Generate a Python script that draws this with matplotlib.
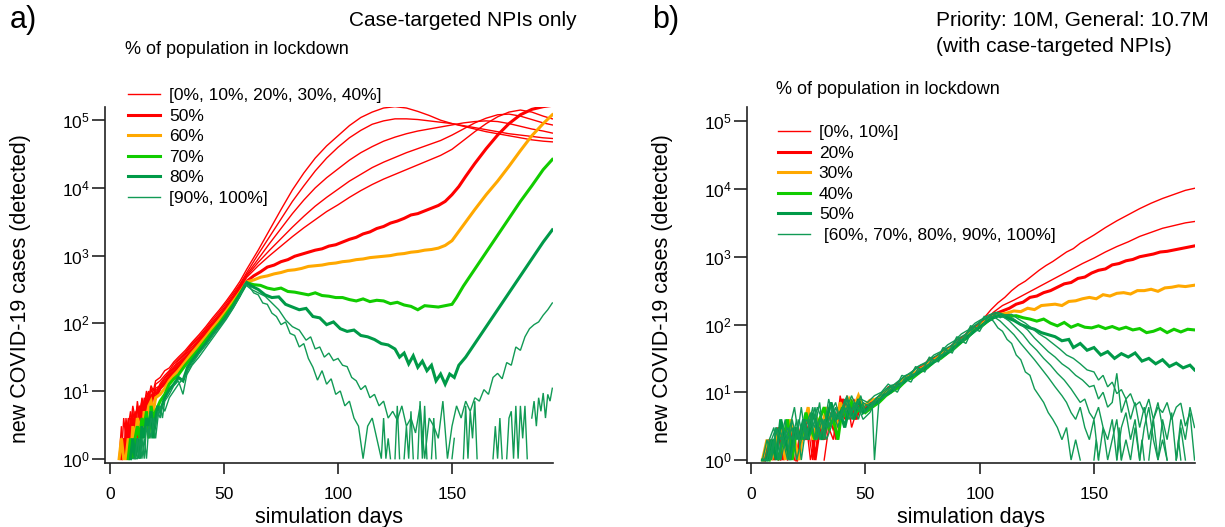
import numpy as np
import matplotlib
matplotlib.use('Agg')
import matplotlib.pyplot as plt
from matplotlib.ticker import NullLocator, FixedLocator

plt.rcParams['font.family'] = ['Liberation Sans', 'DejaVu Sans']
plt.rcParams['mathtext.fontset'] = 'custom'
plt.rcParams['mathtext.rm'] = 'Liberation Sans'
plt.rcParams['mathtext.it'] = 'Liberation Sans:italic'

N = float('nan')  # zero detected cases -> gap on log axis

# ---- panel a: case-targeted NPIs only (day, log10 cases) ----
a_r0 = [(4,0),(5,.48),(6,0),(7,.3),(8,.6),(9,.3),(10,.7),(11,.48),(12,.85),(13,.6),(14,.9),(15,.78),(16,1.0),(17,.9),(18,1.08),(19,1.0),(20,1.15),(22,1.2),(24,1.3),(26,1.34),(28,1.43),(30,1.5),(33,1.6),(36,1.72),(39,1.83),(42,1.95),(45,2.08),(48,2.2),(51,2.33),(54,2.47),(57,2.62),(60,2.8),(65,3.08),(70,3.38),(75,3.68),(80,3.97),(85,4.22),(90,4.44),(95,4.62),(100,4.77),(105,4.92),(110,5.04),(115,5.12),(120,5.18),(125,5.2),(130,5.18),(135,5.13),(140,5.07),(145,5.0),(150,4.95),(155,4.91),(160,4.87),(165,4.83),(170,4.8),(175,4.77),(180,4.74),(185,4.71),(190,4.69),(194,4.68)]
a_r1 = [(5,0),(6,.3),(7,0),(8,.48),(9,.7),(10,.3),(11,.6),(12,.78),(13,.48),(14,.85),(15,.7),(16,.95),(17,.85),(18,1.04),(19,.9),(20,1.1),(22,1.15),(24,1.23),(26,1.3),(28,1.4),(30,1.47),(33,1.57),(36,1.7),(39,1.8),(42,1.92),(45,2.05),(48,2.17),(51,2.3),(54,2.44),(57,2.58),(60,2.75),(65,3.02),(70,3.28),(75,3.54),(80,3.8),(85,4.03),(90,4.25),(95,4.44),(100,4.6),(105,4.74),(110,4.85),(115,4.94),(120,4.99),(125,5.02),(130,5.02),(135,5.01),(140,4.99),(145,4.97),(150,4.95),(155,4.92),(160,4.89),(165,4.86),(170,4.83),(175,4.8),(180,4.78),(185,4.76),(190,4.74),(194,4.73)]
a_r2 = [(4,0),(5,0),(6,.6),(7,.3),(8,0),(9,.48),(10,.6),(11,.3),(12,.7),(13,.78),(14,.6),(15,.9),(16,.78),(17,1.0),(18,.85),(19,1.04),(20,.95),(22,1.11),(24,1.2),(26,1.28),(28,1.36),(30,1.45),(33,1.55),(36,1.68),(39,1.78),(42,1.9),(45,2.02),(48,2.14),(51,2.27),(54,2.41),(57,2.56),(60,2.72),(65,2.95),(70,3.18),(75,3.4),(80,3.62),(85,3.82),(90,4.0),(95,4.15),(100,4.28),(105,4.41),(110,4.52),(115,4.61),(120,4.69),(125,4.75),(130,4.8),(135,4.84),(140,4.87),(145,4.9),(150,4.93),(155,4.96),(160,4.98),(165,4.99),(170,4.98),(175,4.95),(180,4.91),(185,4.87),(190,4.84),(194,4.81)]
a_r3 = [(6,0),(7,.48),(8,.3),(9,.6),(10,0),(11,.7),(12,.48),(13,.78),(14,.7),(15,.6),(16,.9),(17,.78),(18,.95),(19,.9),(20,1.04),(22,1.08),(24,1.18),(26,1.26),(28,1.34),(30,1.42),(33,1.53),(36,1.65),(39,1.76),(42,1.88),(45,2.0),(48,2.12),(51,2.25),(54,2.39),(57,2.54),(60,2.7),(65,2.9),(70,3.08),(75,3.25),(80,3.42),(85,3.58),(90,3.73),(95,3.86),(100,3.98),(105,4.1),(110,4.2),(115,4.3),(120,4.38),(125,4.45),(130,4.52),(135,4.58),(140,4.64),(145,4.7),(150,4.78),(155,4.87),(160,4.96),(165,5.03),(170,5.08),(175,5.09),(180,5.06),(185,5.01),(190,4.96),(194,4.93)]
a_r4 = [(5,0),(6,0),(7,.6),(8,.3),(9,.48),(10,.78),(11,.6),(12,.3),(13,.7),(14,.85),(15,.6),(16,.78),(17,.95),(18,.85),(19,.9),(20,1.0),(22,1.08),(24,1.15),(26,1.24),(28,1.32),(30,1.4),(33,1.5),(36,1.62),(39,1.74),(42,1.86),(45,1.98),(48,2.1),(51,2.23),(54,2.37),(57,2.52),(60,2.68),(65,2.85),(70,3.0),(75,3.14),(80,3.28),(85,3.41),(90,3.53),(95,3.65),(100,3.75),(105,3.86),(110,3.96),(115,4.05),(120,4.13),(125,4.2),(130,4.27),(135,4.34),(140,4.41),(145,4.48),(150,4.57),(155,4.7),(160,4.83),(165,4.95),(170,5.05),(175,5.12),(180,5.15),(185,5.12),(190,5.06),(194,5.02)]
a_r5 = [(5,0),(6,.3),(7,0),(8,.48),(9,.3),(10,.6),(11,.48),(12,.3),(13,.7),(14,.6),(15,.78),(16,.7),(17,.9),(18,.78),(19,.95),(20,.9),(22,1.04),(24,1.11),(26,1.2),(28,1.28),(30,1.36),(33,1.48),(36,1.6),(39,1.72),(42,1.84),(45,1.96),(48,2.08),(51,2.2),(54,2.34),(57,2.48),(60,2.62),(63,2.7),(66,2.76),(69,2.83),(72,2.86),(75,2.91),(78,2.94),(81,2.99),(84,3.02),(87,3.05),(90,3.08),(93,3.1),(96,3.14),(99,3.16),(102,3.2),(105,3.24),(108,3.27),(111,3.32),(114,3.35),(117,3.4),(120,3.43),(123,3.48),(126,3.51),(129,3.55),(132,3.6),(135,3.62),(138,3.66),(141,3.7),(144,3.74),(147,3.8),(150,3.9),(153,4.02),(156,4.17),(160,4.36),(165,4.58),(170,4.78),(175,4.95),(180,5.08),(185,5.16),(190,5.2),(194,5.22)]
a_o = [(4,0),(5,.3),(6,0),(7,0),(8,.3),(9,0),(10,.48),(11,.3),(12,.6),(13,.48),(14,.3),(15,.7),(16,.6),(17,.78),(18,.85),(19,.7),(20,.9),(22,.95),(24,1.04),(26,1.15),(28,1.23),(30,1.3),(33,1.43),(36,1.56),(39,1.68),(42,1.8),(45,1.93),(48,2.05),(51,2.18),(54,2.32),(57,2.46),(60,2.61),(63,2.64),(66,2.68),(69,2.7),(72,2.73),(75,2.75),(78,2.78),(81,2.79),(84,2.81),(87,2.84),(90,2.85),(93,2.86),(96,2.88),(99,2.89),(102,2.91),(105,2.92),(108,2.94),(111,2.95),(114,2.97),(117,2.98),(120,2.99),(123,3.0),(126,3.02),(129,3.03),(132,3.05),(135,3.06),(138,3.08),(141,3.09),(144,3.11),(147,3.15),(150,3.22),(155,3.45),(160,3.68),(165,3.9),(170,4.1),(175,4.32),(180,4.55),(185,4.77),(190,4.95),(194,5.08)]
a_g7 = [(8,0),(9,.3),(10,0),(11,.3),(12,.48),(13,.3),(14,.6),(15,.48),(16,.7),(17,.3),(18,.78),(19,.6),(20,.7),(22,.85),(24,.95),(26,1.1),(28,1.18),(30,1.24),(33,1.38),(36,1.5),(39,1.62),(42,1.75),(45,1.88),(48,2.0),(51,2.14),(54,2.28),(57,2.44),(60,2.6),(63,2.57),(66,2.56),(69,2.52),(72,2.5),(75,2.52),(78,2.47),(81,2.46),(84,2.44),(87,2.42),(90,2.45),(93,2.41),(96,2.4),(99,2.38),(102,2.38),(105,2.35),(108,2.33),(111,2.36),(114,2.32),(117,2.34),(120,2.33),(123,2.29),(126,2.31),(129,2.27),(132,2.25),(135,2.2),(138,2.26),(141,2.25),(144,2.24),(147,2.26),(150,2.28),(152,2.38),(155,2.55),(160,2.8),(165,3.05),(170,3.3),(175,3.55),(180,3.8),(185,4.03),(190,4.27),(194,4.42)]
a_g8 = [(9,0),(10,.3),(11,0),(12,.3),(13,0),(14,.48),(15,.3),(16,.6),(17,.48),(18,.7),(19,.3),(20,.6),(21,.78),(22,.7),(24,.9),(26,1.02),(28,1.1),(30,1.2),(32,1.15),(34,1.35),(36,1.45),(39,1.58),(42,1.7),(45,1.84),(48,1.97),(51,2.1),(54,2.25),(57,2.42),(60,2.6),(62,2.55),(65,2.5),(68,2.42),(71,2.38),(74,2.39),(77,2.28),(80,2.24),(83,2.2),(86,2.22),(89,2.1),(92,2.08),(95,1.98),(98,2.02),(101,1.92),(104,1.88),(107,1.9),(110,1.82),(113,1.8),(116,1.76),(119,1.7),(122,1.68),(125,1.62),(127,1.5),(129,1.56),(131,1.4),(133,1.52),(135,1.35),(137,1.44),(139,1.3),(141,1.38),(143,1.15),(145,1.25),(147,1.1),(149,1.25),(151,1.2),(153,1.38),(156,1.5),(160,1.7),(165,1.95),(170,2.2),(175,2.45),(180,2.7),(185,2.95),(190,3.2),(194,3.38)]
a_g9 = [(10,0),(11,0),(12,.3),(13,0),(14,.3),(15,0),(16,.48),(17,.3),(18,.6),(19,.48),(20,.3),(21,.6),(22,.78),(23,.6),(24,.85),(26,.95),(28,1.08),(30,1.15),(32,.95),(34,1.3),(36,1.4),(39,1.55),(42,1.68),(45,1.82),(48,1.95),(51,2.08),(54,2.24),(57,2.4),(59,2.58),(62,2.5),(65,2.45),(68,2.4),(71,2.3),(74,2.2),(77,2.05),(80,1.95),(83,1.9),(86,1.75),(88,1.8),(90,1.62),(92,1.65),(94,1.5),(96,1.56),(98,1.45),(100,1.48),(102,1.38),(104,1.36),(106,1.2),(108,1.15),(110,1.02),(112,1.08),(114,.9),(116,.95),(118,.78),(120,.85),(122,.6),(124,.7),(126,.57),(128,.78),(130,.48),(132,.6),(134,.38),(136,.78),(138,0),(140,.6),(142,.48),(144,.3),(146,.85),(148,0),(150,.48),(152,.78),(154,.6),(156,.85),(158,.7),(160,.9),(162,.85),(164,1.02),(166,.95),(168,1.2),(170,1.26),(172,1.18),(174,1.42),(176,1.38),(178,1.65),(180,1.6),(182,1.8),(184,1.92),(186,1.98),(188,2.02),(190,2.12),(192,2.2),(194,2.3)]
a_g10 = [(11,0),(12,0),(13,.3),(14,0),(15,.3),(16,0),(17,.48),(18,.3),(19,.6),(20,.48),(21,.7),(22,.6),(23,.78),(24,.7),(26,.9),(28,1.0),(30,1.1),(32,1.18),(34,1.26),(36,1.38),(39,1.5),(42,1.64),(45,1.78),(48,1.92),(51,2.06),(54,2.22),(57,2.4),(59,2.57),(61,2.55),(63,2.45),(65,2.42),(67,2.3),(69,2.28),(71,2.15),(73,2.1),(75,1.98),(77,2.02),(79,1.85),(81,1.82),(83,1.65),(85,1.7),(87,1.48),(89,1.35),(91,1.16),(93,1.3),(95,1.1),(97,1.18),(99,.95),(101,1.0),(103,.78),(105,.85),(107,.6),(109,.48),(111,0),(113,.48),(115,.6),(117,.3),(119,0),(120,.6),(121,0),(122,.3),(123,0),(124,N),(125,0),(126,.78),(127,0),(128,N),(129,0),(130,.48),(131,0),(132,.7),(133,0),(134,N),(135,0),(136,.85),(137,0),(138,.78),(139,0),(140,N),(141,0),(142,.6),(143,0),(144,N),(150,0),(151,.3),(152,N),(155,0),(156,.78),(157,0),(158,.7),(159,.3),(160,.85),(161,0),(162,N),(168,0),(169,.48),(170,0),(171,.6),(172,0),(173,N),(174,0),(175,.6),(176,.7),(177,0),(178,.78),(179,0),(180,.78),(181,.3),(182,.78),(183,0),(184,N),(185,.6),(186,.85),(187,.48),(188,.9),(189,.7),(190,.97),(191,.6),(192,.95),(193,.85),(194,1.04)]

# ---- panel b: priority 10M, general 10.7M (with case-targeted NPIs) ----
b_r0 = [(8,0),(10,.3),(12,0),(14,N),(16,0),(18,.48),(20,0),(22,.3),(24,.6),(26,0),(28,.3),(30,N),(32,0),(34,.48),(36,.3),(38,.78),(40,.6),(42,.95),(44,.48),(46,.7),(48,.85),(51,.78),(54,.9),(57,.95),(60,1.08),(63,1.1),(66,1.2),(69,1.24),(72,1.36),(75,1.38),(78,1.5),(81,1.5),(84,1.62),(87,1.66),(90,1.78),(93,1.82),(96,1.95),(99,2.0),(102,2.1),(105,2.22),(108,2.32),(111,2.4),(114,2.5),(117,2.58),(120,2.64),(123,2.72),(126,2.8),(129,2.87),(132,2.93),(135,3.0),(138,3.07),(141,3.12),(144,3.2),(147,3.26),(150,3.32),(155,3.43),(160,3.53),(165,3.62),(170,3.71),(175,3.79),(180,3.86),(185,3.92),(190,3.98),(194,4.01)]
b_r1 = [(7,0),(9,.3),(11,N),(13,0),(15,.3),(17,.48),(19,0),(21,N),(23,.3),(25,.48),(27,0),(29,.6),(31,.3),(33,.48),(35,.7),(37,.3),(39,.95),(41,.6),(43,.78),(45,.9),(47,.7),(49,.8),(52,.85),(55,.88),(58,1.0),(61,1.02),(64,1.14),(67,1.18),(70,1.28),(73,1.3),(76,1.42),(79,1.45),(82,1.56),(85,1.58),(88,1.7),(91,1.74),(94,1.85),(97,1.9),(100,2.0),(103,2.08),(106,2.18),(110,2.28),(115,2.36),(120,2.45),(125,2.54),(130,2.63),(135,2.72),(140,2.81),(145,2.9),(150,2.98),(155,3.07),(160,3.15),(165,3.22),(170,3.3),(175,3.36),(180,3.42),(185,3.46),(190,3.5),(194,3.52)]
b_r2 = [(6,0),(8,.3),(10,0),(12,.48),(14,0),(16,.3),(18,N),(20,0),(22,.48),(24,.3),(26,.6),(28,0),(30,.48),(32,.3),(34,.7),(36,.48),(38,.6),(40,.9),(42,.7),(44,.78),(46,.6),(48,.85),(50,.75),(53,.82),(56,.92),(59,.98),(62,1.06),(65,1.1),(68,1.22),(71,1.25),(74,1.35),(77,1.38),(80,1.5),(83,1.52),(86,1.64),(89,1.68),(92,1.8),(95,1.84),(98,1.96),(101,2.02),(104,2.1),(107,2.16),(110,2.2),(113,2.24),(116,2.3),(119,2.33),(122,2.4),(125,2.42),(128,2.47),(131,2.5),(134,2.55),(137,2.6),(140,2.62),(143,2.68),(146,2.7),(149,2.76),(152,2.8),(155,2.82),(158,2.88),(161,2.9),(164,2.94),(167,2.96),(170,3.0),(173,3.02),(176,3.04),(179,3.07),(182,3.08),(185,3.1),(188,3.12),(191,3.14),(194,3.16)]
b_o = [(5,0),(7,.3),(9,0),(11,.3),(13,.48),(15,0),(17,.6),(19,.3),(21,0),(23,.48),(25,.78),(27,.3),(29,.6),(31,.48),(33,.78),(35,.6),(37,.48),(39,.85),(41,.7),(43,.9),(45,.78),(47,.95),(49,.78),(52,.88),(55,.9),(58,1.0),(61,1.05),(64,1.1),(67,1.2),(70,1.25),(73,1.32),(76,1.38),(79,1.45),(82,1.52),(85,1.6),(88,1.66),(91,1.74),(94,1.82),(97,1.9),(100,1.98),(103,2.06),(106,2.12),(109,2.15),(112,2.17),(115,2.2),(118,2.19),(121,2.24),(124,2.22),(127,2.28),(130,2.29),(133,2.3),(136,2.28),(139,2.34),(142,2.35),(145,2.38),(148,2.4),(151,2.38),(154,2.44),(157,2.42),(160,2.46),(163,2.47),(166,2.45),(169,2.5),(172,2.5),(175,2.52),(178,2.49),(181,2.54),(184,2.55),(187,2.57),(190,2.56),(194,2.58)]
b_g4 = [(8,0),(10,.3),(12,0),(14,.3),(16,.6),(18,0),(20,.48),(22,.3),(24,.7),(26,.48),(28,.3),(30,.6),(32,.78),(34,.48),(36,.6),(38,.3),(40,.78),(42,.6),(44,.85),(46,.7),(48,.78),(50,.7),(53,.78),(56,.85),(59,.95),(62,1.02),(65,1.08),(68,1.18),(71,1.22),(74,1.3),(77,1.36),(80,1.45),(83,1.5),(86,1.58),(89,1.65),(92,1.74),(95,1.82),(98,1.92),(101,1.98),(104,2.06),(107,2.12),(110,2.14),(113,2.12),(116,2.13),(119,2.1),(122,2.08),(125,2.05),(128,2.08),(131,2.02),(134,1.98),(137,2.03),(140,1.96),(143,2.0),(146,1.96),(149,1.95),(152,1.98),(155,1.94),(158,1.97),(161,1.93),(164,1.96),(167,1.92),(170,1.94),(173,1.88),(176,1.9),(179,1.94),(182,1.88),(185,1.93),(188,1.89),(191,1.93),(194,1.92)]
b_g5 = [(5,0),(7,0),(9,.3),(11,0),(13,.6),(15,.3),(17,0),(19,.48),(21,.3),(23,.6),(25,.3),(27,.7),(29,.48),(31,.3),(33,.6),(35,.85),(37,.6),(39,.7),(41,.48),(43,.78),(45,.6),(47,.9),(49,.7),(52,.8),(55,.85),(58,.95),(61,1.0),(64,1.1),(67,1.15),(70,1.24),(73,1.28),(76,1.36),(79,1.42),(82,1.5),(85,1.56),(88,1.64),(91,1.72),(94,1.8),(97,1.88),(100,1.96),(103,2.04),(106,2.1),(109,2.14),(112,2.1),(115,2.06),(118,2.0),(121,1.96),(124,1.93),(127,1.88),(130,1.85),(133,1.82),(136,1.76),(139,1.78),(141,1.66),(144,1.72),(147,1.62),(150,1.66),(153,1.55),(156,1.6),(159,1.5),(162,1.57),(165,1.52),(168,1.58),(171,1.46),(174,1.5),(177,1.42),(180,1.48),(183,1.38),(186,1.43),(189,1.36),(192,1.4),(194,1.33)]
b_t6 = [(6,0),(8,0),(10,.3),(12,.48),(14,.3),(16,0),(18,.6),(20,.3),(22,.78),(24,.3),(26,.6),(28,.48),(30,.85),(32,.3),(34,.6),(36,.7),(38,.48),(40,.78),(42,.95),(44,.7),(46,.85),(48,.9),(51,.85),(54,.95),(57,1.0),(60,1.12),(63,1.05),(66,1.25),(69,1.2),(72,1.38),(75,1.32),(78,1.52),(81,1.45),(84,1.66),(87,1.6),(90,1.82),(93,1.75),(96,1.98),(99,1.95),(102,2.12),(105,2.1),(108,2.18),(111,2.14),(114,2.15),(117,2.08),(120,2.02),(123,1.94),(126,1.86),(129,1.8),(132,1.72),(135,1.64),(138,1.55),(141,1.5),(144,1.42),(147,1.33),(150,1.3),(152,1.18),(154,1.25),(156,1.08),(158,1.15),(160,.98),(162,1.04),(164,.9),(166,.98),(168,.8),(170,.86),(172,.7),(174,.9),(176,.6),(178,.78),(180,.7),(182,.85),(184,.6),(186,.78),(188,.84),(190,.5),(192,.7),(194,0)]
b_t7 = [(5,0),(7,.3),(9,0),(11,.48),(13,.3),(15,.6),(17,0),(19,.3),(21,.6),(23,.3),(25,.48),(27,.78),(29,.3),(31,.6),(33,.48),(35,.7),(37,.85),(39,.6),(41,.78),(43,.6),(45,.85),(47,.78),(49,.6),(52,.7),(55,.9),(58,.92),(61,1.08),(64,1.0),(67,1.2),(70,1.15),(73,1.35),(76,1.3),(79,1.48),(82,1.45),(85,1.62),(88,1.58),(91,1.78),(94,1.72),(97,1.94),(100,1.9),(103,2.08),(106,2.16),(109,2.1),(112,2.14),(115,2.08),(118,2.0),(121,1.92),(124,1.8),(127,1.7),(130,1.6),(133,1.52),(136,1.42),(139,1.35),(142,1.25),(145,1.18),(148,1.08),(150,1.1),(152,.9),(154,1.0),(156,.78),(158,.85),(160,1.28),(162,.7),(164,.9),(166,.6),(168,.85),(170,.48),(172,.78),(174,.3),(176,.6),(178,.85),(180,.48),(182,0),(183,N),(186,0),(187,.3),(188,0),(189,N)]
b_t8 = [(6,0),(8,.3),(10,.48),(12,0),(14,.3),(16,.48),(18,.3),(20,.6),(22,0),(24,.48),(26,.7),(28,.3),(30,.6),(32,.48),(34,.9),(36,.6),(38,.7),(40,.6),(42,.78),(44,.95),(46,.78),(48,.7),(50,.8),(53,.85),(56,.95),(59,1.05),(62,1.1),(65,1.18),(68,1.25),(71,1.32),(74,1.4),(77,1.45),(80,1.55),(83,1.6),(86,1.7),(89,1.76),(92,1.86),(95,1.92),(98,2.02),(101,2.08),(104,2.14),(107,2.18),(110,2.12),(113,2.05),(116,1.95),(119,1.85),(122,1.72),(125,1.62),(128,1.5),(131,1.4),(134,1.28),(137,1.18),(140,1.05),(142,.95),(144,.85),(146,.9),(148,.7),(150,.6),(152,.78),(154,.48),(156,.3),(158,.6),(160,0),(162,.48),(164,.7),(166,.3),(168,.6),(170,0),(172,.48),(174,.78),(176,.3),(178,0),(180,.6),(182,.3),(184,.7),(186,0),(188,.6),(190,.3),(192,.78),(194,.48)]
b_t9 = [(5,0),(7,0),(9,.3),(11,.48),(13,0),(15,.3),(17,.48),(19,.78),(21,.3),(23,.6),(25,.3),(27,.48),(29,.78),(31,.6),(33,.3),(35,.48),(37,.78),(39,.6),(41,.9),(43,.7),(45,.78),(47,.6),(49,.85),(52,.78),(55,.92),(58,.98),(61,1.1),(64,1.12),(67,1.24),(70,1.28),(73,1.38),(76,1.42),(79,1.5),(82,1.56),(85,1.64),(88,1.7),(91,1.8),(94,1.86),(97,1.96),(100,2.04),(103,2.1),(106,2.12),(109,2.05),(112,1.95),(115,1.85),(118,1.72),(121,1.6),(124,1.48),(127,1.35),(130,1.22),(133,1.08),(136,.95),(138,.85),(140,.7),(142,.6),(144,.78),(146,.48),(148,.3),(150,.6),(152,0),(154,.48),(156,0),(158,.3),(160,.6),(162,0),(164,.3),(166,0),(168,.48),(170,0),(172,N),(174,0),(176,.6),(178,0),(180,.3),(182,0),(184,N),(186,0),(188,.48),(190,0),(192,N)]
b_t10 = [(8,0),(10,.3),(12,0),(14,.48),(16,.3),(18,.48),(20,0),(22,.3),(24,.6),(26,.48),(28,.78),(30,.3),(32,.6),(34,.48),(36,.78),(38,.6),(40,.7),(42,.9),(44,.6),(46,.78),(48,.95),(50,.7),(53,.82),(54,0),(56,.9),(59,.96),(62,1.08),(65,1.1),(68,1.22),(71,1.26),(74,1.34),(77,1.4),(80,1.46),(83,1.55),(86,1.6),(89,1.72),(92,1.78),(95,1.88),(98,1.98),(101,2.06),(104,2.1),(106,2.05),(108,1.95),(110,1.9),(112,1.78),(114,1.72),(116,1.55),(118,1.48),(120,1.3),(122,1.25),(124,1.05),(126,.95),(128,.85),(130,.7),(132,.6),(134,.48),(136,.3),(138,.48),(140,0),(142,.3),(144,0),(145,N),(150,0),(151,.3),(152,0),(153,N),(160,0),(161,.48),(162,0),(163,N),(170,0),(171,.3),(172,0),(173,N)]

RED, ORANGE, LGREEN, DGREEN, TGREEN = '#ff0000', '#ffa800', '#11cc00', '#009a48', '#119a55'
THIN, THICK = 1.0, 2.2

# (series list, colour, width, legend label)
groups_a = [
    ([a_r0, a_r1, a_r2, a_r3, a_r4], RED, THIN, '[0%, 10%, 20%, 30%, 40%]'),
    ([a_r5], RED, THICK, '50%'),
    ([a_o], ORANGE, THICK, '60%'),
    ([a_g7], LGREEN, THICK, '70%'),
    ([a_g8], DGREEN, THICK, '80%'),
    ([a_g9, a_g10], TGREEN, THIN, '[90%, 100%]'),
]
groups_b = [
    ([b_r0, b_r1], RED, THIN, '[0%, 10%]'),
    ([b_r2], RED, THICK, '20%'),
    ([b_o], ORANGE, THICK, '30%'),
    ([b_g4], LGREEN, THICK, '40%'),
    ([b_g5], DGREEN, THICK, '50%'),
    ([b_t6, b_t7, b_t8, b_t9, b_t10], TGREEN, THIN, ' [60%, 70%, 80%, 90%, 100%]'),
]

W, H = 1225, 527
fig = plt.figure(figsize=(W / 100, H / 100), dpi=100)


def draw_panel(left_px, groups, xlim, ylim, leg_px):
    ax = fig.add_axes([left_px / W, 64 / H, 448 / W, 356 / H])
    handles = []
    for series, col, lw, lab in groups:
        for k, s in enumerate(series):
            d, v = zip(*s)
            ln, = ax.plot(d, 10 ** np.array(v, dtype=float), color=col, lw=lw,
                          solid_joinstyle='miter')
            if k == 0:
                handles.append((ln, lab))
    ax.set_yscale('log')
    ax.set_xlim(*xlim)
    ax.set_ylim(*ylim)
    ax.xaxis.set_major_locator(FixedLocator([0, 50, 100, 150]))
    ax.yaxis.set_major_locator(FixedLocator([1, 10, 100, 1e3, 1e4, 1e5]))
    ax.yaxis.set_minor_locator(NullLocator())
    for sp in ['top', 'right']:
        ax.spines[sp].set_visible(False)
    for sp in ['left', 'bottom']:
        ax.spines[sp].set_linewidth(1.2)
        ax.spines[sp].set_color('#222222')
    ax.tick_params(axis='x', direction='out', length=8, width=1.2, color='#222222',
                   labelsize=12.5, pad=9)
    ax.tick_params(axis='y', direction='out', length=9.5, width=1.2, color='#222222',
                   labelsize=12.5, pad=1.5)
    ax.set_xlabel('simulation days', fontsize=15.5)
    ax.xaxis.set_label_coords(0.5, -0.125)
    ax.set_ylabel('new COVID-19 cases (detected)', fontsize=15.5)
    ax.yaxis.set_label_coords(-0.165, 0.49)
    ax.legend([h for h, _ in handles], [l for _, l in handles], loc='upper left',
              bbox_to_anchor=(leg_px[0] / W, 1 - leg_px[1] / H),
              bbox_transform=fig.transFigure, frameon=False, fontsize=12.5,
              handlelength=1.87, handletextpad=0.48, labelspacing=0.31,
              borderpad=0, borderaxespad=0)
    return ax


ax_a = draw_panel(105, groups_a, (-2.2, 194.3), (10 ** -0.064, 10 ** 5.195), (128, 88))
ax_b = draw_panel(747, groups_b, (-1.75, 194.2), (10 ** -0.044, 10 ** 5.21), (778, 125))

fig.text(10 / W, 1 - 20 / H, 'a)', fontsize=22, va='center')
fig.text(577 / W, 1 - 20 / H, 'Case-targeted NPIs only', fontsize=15, va='center', ha='right')
fig.text(125 / W, 1 - 50 / H, '% of population in lockdown', fontsize=13, va='center')
fig.text(652 / W, 1 - 20 / H, 'b)', fontsize=22, va='center')
fig.text(936 / W, 1 - 20 / H, 'Priority: 10M, General: 10.7M', fontsize=15, va='center')
fig.text(936 / W, 1 - 46 / H, '(with case-targeted NPIs)', fontsize=15, va='center')
fig.text(776 / W, 1 - 90 / H, '% of population in lockdown', fontsize=13, va='center')

fig.savefig('out.png', dpi=100)
